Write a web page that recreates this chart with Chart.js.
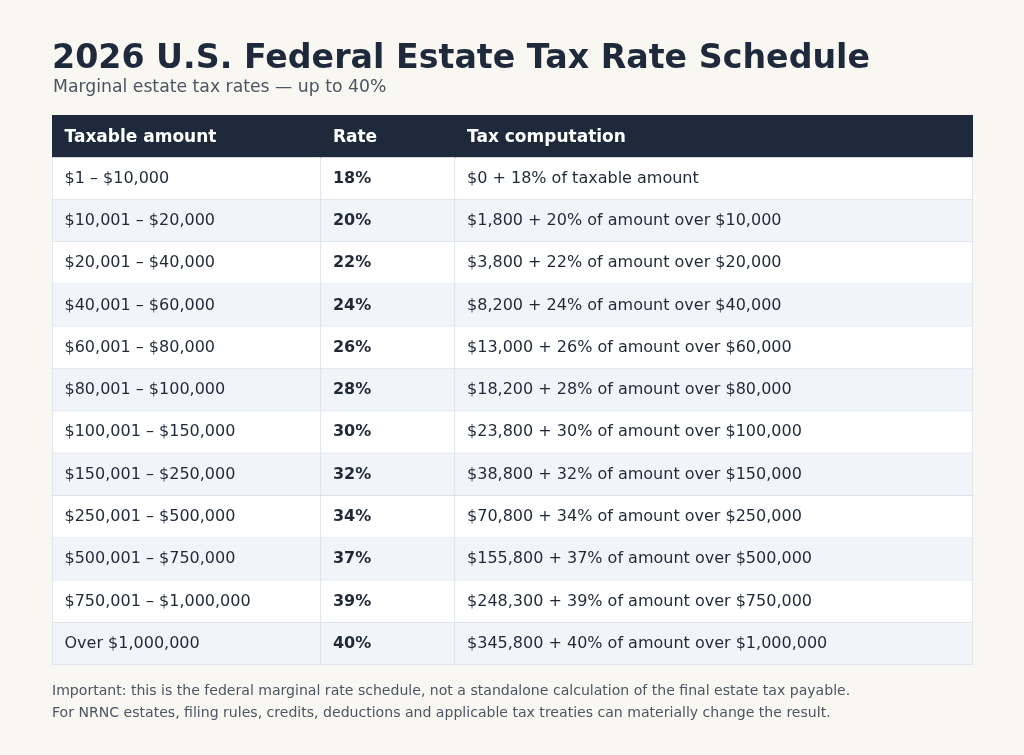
<!DOCTYPE html>
<html>
<head>
<meta charset="utf-8">
<script src="https://cdn.jsdelivr.net/npm/chart.js@4/dist/chart.umd.min.js"></script>
<style>
  html, body { margin: 0; padding: 0; background: #f9f7f1; }
  #wrap { width: 1024px; height: 755px; }
</style>
</head>
<body>
<div id="wrap"><canvas id="taxTable" width="1024" height="755"></canvas></div>
<script>
const headers = ['Taxable amount', 'Rate', 'Tax computation'];
const brackets = ['$1 – $10,000', '$10,001 – $20,000', '$20,001 – $40,000', '$40,001 – $60,000',
    '$60,001 – $80,000', '$80,001 – $100,000', '$100,001 – $150,000', '$150,001 – $250,000',
    '$250,001 – $500,000', '$500,001 – $750,000', '$750,001 – $1,000,000', 'Over $1,000,000'];
const rates = ['18%', '20%', '22%', '24%', '26%', '28%', '30%', '32%', '34%', '37%', '39%', '40%'];
const computations = ['$0 + 18% of taxable amount', '$1,800 + 20% of amount over $10,000',
    '$3,800 + 22% of amount over $20,000', '$8,200 + 24% of amount over $40,000',
    '$13,000 + 26% of amount over $60,000', '$18,200 + 28% of amount over $80,000',
    '$23,800 + 30% of amount over $100,000', '$38,800 + 32% of amount over $150,000',
    '$70,800 + 34% of amount over $250,000', '$155,800 + 37% of amount over $500,000',
    '$248,300 + 39% of amount over $750,000', '$345,800 + 40% of amount over $1,000,000'];

const title = '2026 U.S. Federal Estate Tax Rate Schedule';
const subtitle = 'Marginal estate tax rates — up to 40%';
const notes = ['Important: this is the federal marginal rate schedule, not a standalone calculation of the final estate tax payable.',
    'For NRNC estates, filing rules, credits, deductions and applicable tax treaties can materially change the result.'];

// column edges as share of the table width (0..100)
const colEdges = [0, 29.2, 43.76, 100];
const FONT = '"DejaVu Sans", "Noto Sans", sans-serif';

const rowLabels = ['header'].concat(brackets);
const columns = [[headers[0]].concat(brackets), [headers[1]].concat(rates), [headers[2]].concat(computations)];

function rowColor(i) {
    if (i === 0) return '#1e293b';
    return i % 2 === 1 ? '#ffffff' : '#f1f5f9';
}

const datasets = columns.map(function (col, j) {
    return {
        label: headers[j],
        data: rowLabels.map(() => [colEdges[j], colEdges[j + 1]]),
        backgroundColor: ctx => rowColor(ctx.dataIndex),
        borderColor: '#d9dfe7',
        borderWidth: ctx => ctx.dataIndex === 0 ? 0 :
            { top: 0, left: j === 0 ? 1 : 0, right: 1, bottom: 1 },
        borderSkipped: false,
        barPercentage: 1,
        categoryPercentage: 1
    };
});

// writes cell texts plus title, subtitle and footnotes
const textPlugin = {
    id: 'tableText',
    afterDatasetsDraw(chart) {
        const c = chart.ctx;
        const xs = chart.scales.x, ys = chart.scales.y;
        c.save();
        c.textBaseline = 'middle';
        c.textAlign = 'left';
        rowLabels.forEach(function (r, i) {
            const y = ys.getPixelForValue(i) + (i === 0 ? 1 : 0);
            columns.forEach(function (col, j) {
                const x = xs.getPixelForValue(colEdges[j]) + (j === 0 ? 12.5 : 12);
                if (i === 0) {
                    c.fillStyle = '#ffffff';
                    c.font = 'bold 17px ' + FONT;
                } else {
                    c.fillStyle = '#1f2937';
                    c.font = (j === 1 ? 'bold ' : '') + '16px ' + FONT;
                }
                c.fillText(col[i], x, y);
            });
        });
        c.textBaseline = 'alphabetic';
        c.fillStyle = '#1e293b';
        c.font = 'bold 33.25px ' + FONT;
        c.fillText(title, 52, 68);
        c.fillStyle = '#4b5563';
        c.font = '17.25px ' + FONT;
        c.fillText(subtitle, 53, 92);
        c.font = '14.07px ' + FONT;
        c.fillText(notes[0], 52, 695);
        c.fillText(notes[1], 52, 717);
        c.restore();
    }
};

new Chart(document.getElementById('taxTable'), {
    type: 'bar',
    data: { labels: rowLabels, datasets: datasets },
    options: {
        indexAxis: 'y',
        responsive: false,
        animation: false,
        layout: { padding: { left: 52, right: 51, top: 115, bottom: 90 } },
        scales: {
            x: { type: 'linear', min: 0, max: 100, display: false },
            y: { stacked: true, display: false }
        },
        plugins: {
            legend: { display: false },
            tooltip: { enabled: false }
        }
    },
    plugins: [textPlugin]
});
</script>
</body>
</html>
